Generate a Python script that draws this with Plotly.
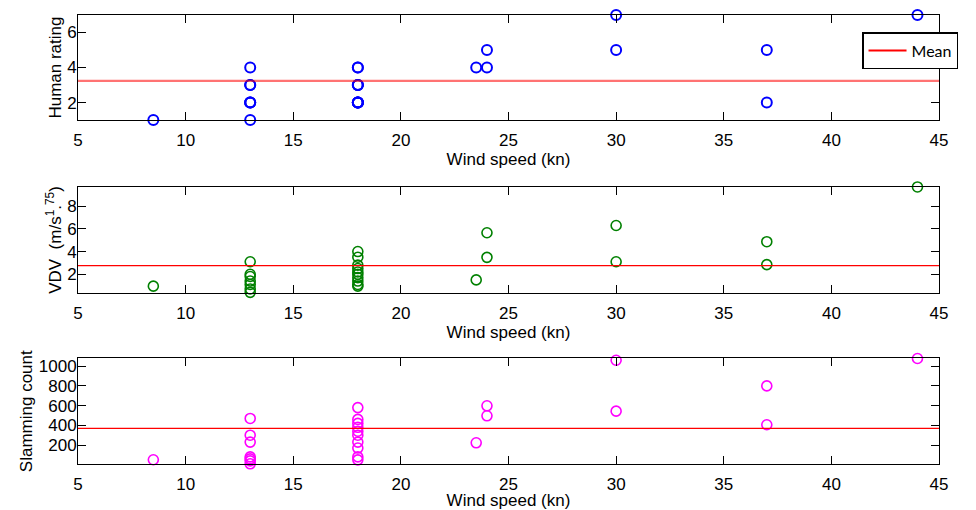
import plotly.graph_objects as go

# ---------------- data ----------------
wind = [8.5] + [13] * 7 + [18] * 10 + [23.5, 24, 24, 30, 30, 37, 37, 44]
human_rating = [1] + [4, 3, 3, 2, 2, 2, 1] + [4, 4, 3, 3, 3, 2, 2, 2, 2, 2] + [4, 5, 4, 7, 5, 5, 2, 7]
vdv = [0.95] + [3.1, 2.0, 1.8, 1.4, 1.1, 0.7, 0.4] + [4.0, 3.5, 2.8, 2.5, 2.2, 2.0, 1.7, 1.4, 1.1, 0.95] \
      + [1.5, 5.66, 3.49, 6.3, 3.1, 4.87, 2.85, 9.7]
slamming = [51] + [470, 300, 230, 80, 60, 40, 10] + [580, 460, 420, 380, 340, 300, 230, 170, 80, 50] \
           + [223, 598, 497, 1060, 544, 800, 406, 1078]

means = [3.24, 2.76, 370]
x_ticks = [5, 10, 15, 20, 25, 30, 35, 40, 45]
y_ticks_human = [2, 4, 6]
y_ticks_vdv = [2, 4, 6, 8]
y_ticks_slam = [200, 400, 600, 800, 1000]
y_ranges = [[1, 7], [0.35, 9.7], [8, 1078]]

y_titles = ["Human rating", "VDV  (m/s<sup>1</sup>.<sup>75</sup>)", "Slamming count"]
x_title = "Wind speed (kn)"
series = [human_rating, vdv, slamming]
colors = ["#0000ff", "#008000", "#ff00ff"]
marker_widths = [2, 1.6, 1.6]
mean_styles = [dict(color="rgba(255,0,0,0.55)", width=2.2),
               dict(color="#ff0000", width=1.3),
               dict(color="#ff0000", width=1.3)]
y_tick_sets = [y_ticks_human, y_ticks_vdv, y_ticks_slam]
domains = [[0.766, 1.0], [0.381, 0.617], [0.0, 0.235]]

FONT = "Liberation Sans, Arial, sans-serif"

fig = go.Figure()
layout = dict(
    width=968, height=502,
    margin=dict(l=70, r=37, t=7, b=46),
    paper_bgcolor="white", plot_bgcolor="white",
    font=dict(family=FONT, size=17, color="#000"),
    showlegend=True,
    legend=dict(x=0.9106, y=0.962, xanchor="left", yanchor="top",
                bgcolor="white", bordercolor="#000", borderwidth=1.5,
                itemwidth=38, entrywidth=150,
                font=dict(family="Lato, Carlito, sans-serif", size=16)),
)

for i in range(3):
    xa = "x" if i == 0 else f"x{i+1}"
    ya = "y" if i == 0 else f"y{i+1}"
    fig.add_trace(go.Scatter(
        x=wind, y=series[i], mode="markers", xaxis=xa, yaxis=ya,
        marker=dict(symbol="circle-open", size=10, color=colors[i],
                    line=dict(width=marker_widths[i], color=colors[i])),
        showlegend=False, cliponaxis=False))
    fig.add_trace(go.Scatter(
        x=[x_ticks[0], x_ticks[-1]], y=[means[i], means[i]], mode="lines",
        xaxis=xa, yaxis=ya, line=mean_styles[i],
        name="Mean", showlegend=False))
    axis_common = dict(showline=True, linecolor="#000", linewidth=1, mirror="ticks",
                       ticks="inside", ticklen=8, tickcolor="#000", tickwidth=1,
                       showgrid=False, zeroline=False, automargin=False,
                       tickfont=dict(family=FONT, size=17))
    layout["xaxis" if i == 0 else f"xaxis{i+1}"] = dict(
        axis_common, range=[x_ticks[0], x_ticks[-1]], tickvals=x_ticks,
        anchor=ya, domain=[0, 1], ticklabelstandoff=5,
        title=dict(text=x_title, standoff=0, font=dict(family=FONT, size=17)))
    layout["yaxis" if i == 0 else f"yaxis{i+1}"] = dict(
        axis_common, range=y_ranges[i], tickvals=y_tick_sets[i],
        anchor=xa, domain=domains[i], ticklabelstandoff=-3,
        title=dict(text=y_titles[i], standoff=1, font=dict(family=FONT, size=17)))

# legend entry (pure red sample) for the mean lines
fig.add_trace(go.Scatter(x=[None], y=[None], mode="lines", name="Mean",
                         line=dict(color="#ff0000", width=2), showlegend=True))

fig.update_layout(**layout)
fig.write_html("out.html")
